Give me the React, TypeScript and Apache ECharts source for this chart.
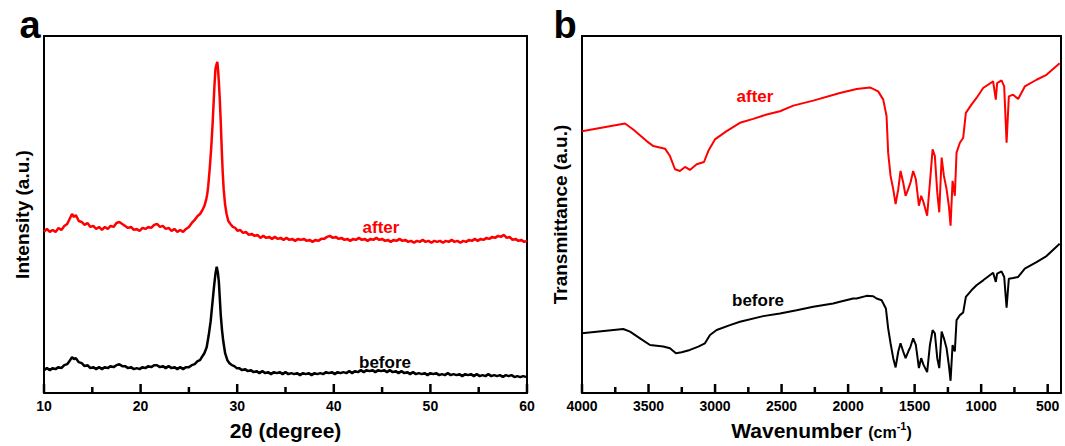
import React, { useEffect, useRef } from "react";
import * as echarts from "echarts";

// XRD (panel a): [2θ (degree), intensity (a.u.)]
const xrdAfter: number[][] = [
  [10, 162], [10.3, 165], [10.6, 162], [10.9, 164], [11.2, 162], [11.5, 166], [11.8, 164], [12.1, 168], [12.4, 170], [12.7, 176], [12.9, 180], [13.1, 177], [13.3, 179], [13.6, 173], [13.9, 172], [14.2, 169], [14.5, 171], [14.8, 167], [15.1, 168], [15.4, 165], [15.7, 167], [16.0, 164], [16.3, 167], [16.6, 165], [16.9, 168], [17.2, 167], [17.5, 171], [17.8, 172], [18.1, 170], [18.4, 168], [18.7, 166], [19.0, 167], [19.3, 164], [19.6, 165], [19.9, 163], [20.2, 166], [20.5, 165], [20.8, 167], [21.1, 166], [21.4, 169], [21.7, 170], [22.0, 167], [22.3, 168], [22.6, 165], [22.9, 166], [23.2, 163], [23.5, 165], [23.8, 162], [24.1, 164], [24.4, 162], [24.7, 165], [25.0, 167], [25.3, 171], [25.6, 174], [25.9, 178], [26.15, 180], [26.4, 184], [26.6, 188], [26.8, 195],
  [26.9, 200], [27.0, 208], [27.15, 225], [27.3, 245], [27.45, 270], [27.55, 290], [27.65, 310], [27.75, 326], [27.85, 330], [27.94, 333], [28.02, 325], [28.1, 313], [28.2, 295], [28.3, 272], [28.4, 245], [28.5, 222], [28.6, 205], [28.74, 190], [28.9, 180], [29.08, 173],
  [29.3, 170], [29.55, 167], [29.8, 166], [30.05, 163], [30.3, 164], [30.6, 161], [30.9, 162], [31.2, 159], [31.5, 160], [31.8, 158], [32.1, 159], [32.4, 156], [32.7, 158], [33.0, 156], [33.3, 157], [33.6, 155], [33.9, 157], [34.2, 155], [34.5, 156], [34.8, 154], [35.1, 156], [35.4, 154], [35.7, 155], [36.0, 153], [36.3, 155], [36.6, 154], [36.9, 155], [37.2, 153], [37.5, 154], [37.8, 152], [38.1, 154], [38.4, 153], [38.7, 155], [39.0, 155], [39.3, 157], [39.6, 158], [39.9, 156], [40.2, 157], [40.5, 155], [40.8, 156], [41.1, 154], [41.4, 155], [41.7, 153], [42.0, 155], [42.3, 154], [42.6, 156], [42.9, 154], [43.2, 155], [43.5, 153], [43.8, 155], [44.1, 154], [44.4, 156], [44.7, 154], [45.0, 155], [45.3, 153], [45.6, 154], [45.9, 152], [46.2, 154], [46.5, 153], [46.8, 155], [47.1, 153], [47.4, 154], [47.7, 152], [48.0, 153], [48.3, 151], [48.6, 153], [48.9, 152], [49.2, 154], [49.5, 152], [49.8, 153], [50.1, 151], [50.4, 153], [50.7, 152], [51.0, 153], [51.3, 151], [51.6, 153], [51.9, 152], [52.2, 154], [52.5, 152], [52.8, 153], [53.1, 151], [53.4, 153], [53.7, 152], [54.0, 154], [54.3, 153], [54.6, 155], [54.9, 153], [55.2, 155], [55.5, 154], [55.8, 156], [56.1, 155], [56.4, 157], [56.7, 156], [57.0, 158], [57.3, 157], [57.6, 159], [57.9, 156], [58.2, 157], [58.5, 154], [58.8, 155], [59.1, 153], [59.4, 154], [59.7, 152], [60, 153],
];

const xrdBefore: number[][] = [
  [10, 23], [10.3, 25], [10.6, 23], [10.9, 25], [11.2, 24], [11.5, 26], [11.8, 25], [12.1, 28], [12.4, 29], [12.7, 33], [12.9, 36], [13.1, 34], [13.3, 35], [13.6, 31], [13.9, 30], [14.2, 27], [14.5, 28], [14.8, 25], [15.1, 26], [15.4, 24], [15.7, 26], [16.0, 24], [16.3, 26], [16.6, 25], [16.9, 27], [17.2, 26], [17.5, 28], [17.8, 29], [18.1, 27], [18.4, 27], [18.7, 25], [19.0, 26], [19.3, 24], [19.6, 25], [19.9, 24], [20.2, 26], [20.5, 25], [20.8, 27], [21.1, 26], [21.4, 28], [21.7, 28], [22.0, 26], [22.3, 27], [22.6, 25], [22.9, 27], [23.2, 25], [23.5, 26], [23.8, 24], [24.1, 26], [24.4, 24], [24.7, 26], [25.0, 26], [25.3, 28], [25.6, 29], [25.9, 32], [26.15, 33], [26.4, 37], [26.6, 40], [26.84, 46],
  [27.05, 58], [27.25, 72], [27.45, 92], [27.6, 107], [27.75, 120], [27.88, 127], [28.0, 121], [28.1, 112], [28.2, 95], [28.3, 78], [28.43, 63], [28.56, 52], [28.75, 40], [28.98, 33],
  [29.2, 30], [29.45, 28], [29.7, 27], [29.95, 25], [30.2, 25], [30.5, 23], [30.8, 24], [31.1, 22], [31.4, 23], [31.7, 21], [32.0, 22], [32.3, 20], [32.6, 22], [32.9, 20], [33.2, 21], [33.5, 19], [33.8, 21], [34.1, 20], [34.4, 21], [34.7, 19], [35.0, 21], [35.3, 19], [35.6, 20], [35.9, 19], [36.2, 20], [36.5, 18], [36.8, 20], [37.1, 19], [37.4, 20], [37.7, 18], [38.0, 20], [38.3, 19], [38.6, 20], [38.9, 19], [39.2, 21], [39.5, 20], [39.8, 21], [40.1, 19], [40.4, 21], [40.7, 20], [41.0, 21], [41.3, 20], [41.6, 22], [41.9, 20], [42.2, 22], [42.5, 21], [42.8, 23], [43.1, 21], [43.4, 23], [43.7, 22], [44.0, 23], [44.3, 21], [44.6, 23], [44.9, 22], [45.2, 23], [45.5, 21], [45.8, 23], [46.1, 21], [46.4, 22], [46.7, 20], [47.0, 22], [47.3, 20], [47.6, 21], [47.9, 19], [48.2, 21], [48.5, 19], [48.8, 20], [49.1, 19], [49.4, 20], [49.7, 18], [50.0, 20], [50.3, 19], [50.6, 20], [50.9, 18], [51.2, 19], [51.5, 18], [51.8, 20], [52.1, 18], [52.4, 19], [52.7, 18], [53.0, 19], [53.3, 17], [53.6, 19], [53.9, 18], [54.2, 19], [54.5, 17], [54.8, 19], [55.1, 17], [55.4, 18], [55.7, 17], [56.0, 19], [56.3, 17], [56.6, 18], [56.9, 17], [57.2, 18], [57.5, 16], [57.8, 18], [58.1, 17], [58.4, 18], [58.7, 16], [59.0, 17], [59.3, 16], [59.6, 17], [60, 16],
];

// FTIR (panel b): wavenumber (cm-1) and transmittance (a.u.)
const ftirAfterWave = [4000, 3677, 3615, 3514, 3464, 3376, 3339, 3301, 3264, 3226, 3189, 3138, 3083, 3051, 3001, 2913, 2813, 2713, 2612, 2512, 2412, 2262, 2062, 1936, 1836, 1774, 1736, 1711, 1699, 1681, 1661, 1643, 1623, 1606, 1586, 1568, 1548, 1531, 1511, 1491, 1468, 1451, 1433, 1406, 1385, 1365, 1348, 1330, 1315, 1297, 1280, 1260, 1243, 1230, 1215, 1198, 1185, 1160, 1135, 1115, 1073, 1035, 985, 910, 890, 880, 847, 827, 809, 792, 760, 722, 672, 584, 509, 410];
const ftirAfterValues = [263.3, 271, 265, 253.3, 248.3, 245.7, 238.3, 225, 223.3, 227.3, 224.3, 230, 232.3, 243.3, 255, 263.3, 271.7, 275.7, 280, 283.3, 289, 294, 301.7, 305.7, 307.3, 303.3, 295, 278.3, 241.7, 218.3, 205, 190, 205, 223.3, 211.7, 198.3, 205, 211.7, 223.3, 215, 188.3, 198.3, 191.7, 178.3, 211.7, 245, 238.3, 201.7, 181.7, 236.7, 218.3, 205, 188.3, 168.3, 213.3, 198.3, 241.7, 251.7, 256.7, 281.7, 290, 296.7, 306.7, 313.3, 295, 311.7, 314.3, 308.3, 251.7, 298.3, 300, 295.7, 308.3, 315, 320, 331.7];

const ftirBeforeWave = [4000, 3690, 3639, 3564, 3489, 3389, 3339, 3294, 3251, 3189, 3126, 3076, 3038, 2988, 2888, 2813, 2638, 2512, 2387, 2262, 2112, 2062, 1962, 1936, 1861, 1811, 1786, 1748, 1716, 1699, 1681, 1661, 1643, 1623, 1606, 1586, 1568, 1548, 1531, 1511, 1491, 1468, 1451, 1433, 1406, 1385, 1365, 1348, 1330, 1315, 1297, 1280, 1260, 1243, 1230, 1215, 1198, 1185, 1160, 1135, 1115, 1073, 1035, 985, 910, 890, 880, 847, 827, 809, 792, 760, 722, 672, 584, 509, 410];
const ftirBeforeValues = [60, 64.3, 61.7, 55, 48.3, 46.7, 45, 40, 41, 43.3, 46.7, 50, 58.3, 63.3, 68.3, 71.7, 77.3, 80, 83.3, 86.7, 90, 91.7, 95, 95, 97.7, 97.3, 95, 93.3, 85, 65, 50, 35, 25.7, 41.7, 50, 41.7, 35, 41.7, 46.7, 55, 48.3, 25, 35, 28.3, 21, 48.3, 63.3, 60, 35, 25, 61.7, 55, 45, 28.3, 12.3, 48.3, 41.7, 73.3, 78.3, 81, 96.7, 103.3, 108.3, 113.3, 121, 111.7, 120, 122.3, 116.7, 85.7, 115, 115.7, 116.7, 125, 131.7, 137.7, 150];

// Tick positions
const xrdMajorTicks = [10, 20, 30, 40, 50, 60];
const xrdMinorTicks = [15, 25, 35, 45, 55];
const ftirMajorTicks = [4000, 3500, 3000, 2500, 2000, 1500, 1000, 500];
const ftirMinorTicks = [3750, 3250, 2750, 2250, 1750, 1250, 750];

const FONT = 'Arial, "Liberation Sans", Helvetica, sans-serif';

function zip(xs: number[], ys: number[]) {
  return xs.map((x, i) => [x, ys[i]]);
}

function tickData(major: number[], minor: number[]) {
  return [...major.map((v) => [v, 9]), ...minor.map((v) => [v, 6])];
}

const renderTick = (_params: any, api: any) => {
  const p = api.coord([api.value(0), 0]);
  return {
    type: "line",
    shape: { x1: p[0], y1: p[1], x2: p[0], y2: p[1] - api.value(1) },
    style: { stroke: "#000", lineWidth: 2.5 },
  };
};

export default function App() {
  const ref = useRef<HTMLDivElement>(null);
  useEffect(() => {
    if (!ref.current) return;
    const chart = echarts.init(ref.current, undefined, { renderer: "svg" });
    const axisLine = { show: true, onZero: false, lineStyle: { color: "#000", width: 2 } };
    const axisLabel = { show: true, color: "#000", fontSize: 14, fontWeight: "bold", fontFamily: FONT, margin: 6 };
    const hidden = { axisTick: { show: false }, minorTick: { show: false }, axisLabel: { show: false }, splitLine: { show: false } };
    const yAxisBase = {
      type: "value",
      min: 0,
      max: 359,
      position: "left",
      axisLine,
      ...hidden,
      nameLocation: "middle",
      nameGap: 12,
      nameTextStyle: { color: "#000", fontSize: 19, fontWeight: "bold", fontFamily: FONT },
    };
    const textStyle = (color: string) => ({
      fill: color,
      font: `bold 17px ${FONT}`,
      textAlign: "center",
      textVerticalAlign: "middle",
    });
    chart.setOption({
      animation: false,
      grid: [
        { left: 44, top: 36, width: 483, height: 359 },
        { left: 582, top: 36, width: 479, height: 359 },
      ],
      xAxis: [
        {
          type: "value",
          gridIndex: 0,
          position: "bottom",
          min: xrdMajorTicks[0],
          max: xrdMajorTicks[xrdMajorTicks.length - 1],
          interval: 10,
          axisLine,
          axisTick: { show: false },
          minorTick: { show: false },
          splitLine: { show: false },
          axisLabel,
          name: "2θ (degree)",
          nameLocation: "middle",
          nameGap: 27,
          nameTextStyle: { color: "#000", fontSize: 21, fontWeight: "bold", fontFamily: FONT },
        },
        {
          type: "value",
          gridIndex: 1,
          position: "bottom",
          min: 400,
          max: 4000,
          splitNumber: 7,
          inverse: true,
          axisLine,
          axisTick: { show: false },
          minorTick: { show: false },
          splitLine: { show: false },
          axisLabel: { ...axisLabel, showMinLabel: false, formatter: (v: number) => (v === 400 ? "" : String(v)) },
          name: "{a|Wavenumber }{b|(cm}{c|-1}{b|)}",
          nameLocation: "middle",
          nameGap: 27,
          nameTextStyle: {
            color: "#000",
            fontFamily: FONT,
            rich: {
              a: { fontSize: 21, fontWeight: "bold", fontFamily: FONT, color: "#000" },
              b: { fontSize: 16, fontWeight: "bold", fontFamily: FONT, color: "#000", padding: [4, 0, 0, 0] },
              c: { fontSize: 11, fontWeight: "bold", fontFamily: FONT, color: "#000", verticalAlign: "top", padding: [0, 0, 8, 0] },
            },
          },
        },
        { type: "value", gridIndex: 0, position: "top", min: 10, max: 60, axisLine, ...hidden },
        { type: "value", gridIndex: 1, position: "top", min: 400, max: 4000, inverse: true, axisLine, ...hidden },
      ],
      yAxis: [
        { ...yAxisBase, gridIndex: 0, name: "Intensity (a.u.)" },
        { ...yAxisBase, gridIndex: 1, name: "Transmittance (a.u.)" },
        { type: "value", gridIndex: 0, position: "right", min: 0, max: 359, axisLine, ...hidden },
        { type: "value", gridIndex: 1, position: "right", min: 0, max: 359, axisLine, ...hidden },
      ],
      series: [
        {
          type: "line",
          xAxisIndex: 0,
          yAxisIndex: 0,
          data: xrdAfter,
          showSymbol: false,
          lineStyle: { color: "#ff0000", width: 2.5 },
        },
        {
          type: "line",
          xAxisIndex: 0,
          yAxisIndex: 0,
          data: xrdBefore,
          showSymbol: false,
          lineStyle: { color: "#000", width: 2.5 },
        },
        {
          type: "line",
          xAxisIndex: 1,
          yAxisIndex: 1,
          data: zip(ftirAfterWave, ftirAfterValues),
          showSymbol: false,
          lineStyle: { color: "#ff0000", width: 2 },
        },
        {
          type: "line",
          xAxisIndex: 1,
          yAxisIndex: 1,
          data: zip(ftirBeforeWave, ftirBeforeValues),
          showSymbol: false,
          lineStyle: { color: "#000", width: 2 },
        },
        {
          type: "custom",
          xAxisIndex: 0,
          yAxisIndex: 0,
          data: tickData(xrdMajorTicks, xrdMinorTicks),
          renderItem: renderTick,
        },
        {
          type: "custom",
          xAxisIndex: 1,
          yAxisIndex: 1,
          data: tickData(ftirMajorTicks, ftirMinorTicks),
          renderItem: renderTick,
        },
      ],
      graphic: [
        { type: "text", x: 30, y: 25, style: { text: "a", fill: "#000", font: `bold 38px ${FONT}`, textAlign: "center", textVerticalAlign: "middle" } },
        { type: "text", x: 565, y: 25, style: { text: "b", fill: "#000", font: `bold 38px ${FONT}`, textAlign: "center", textVerticalAlign: "middle" } },
        { type: "text", x: 381, y: 227, style: { text: "after", ...textStyle("#ff0000") } },
        { type: "text", x: 385, y: 362, style: { text: "before", ...textStyle("#000") } },
        { type: "text", x: 755, y: 96, style: { text: "after", ...textStyle("#ff0000") } },
        { type: "text", x: 758, y: 300, style: { text: "before", ...textStyle("#000") } },
      ],
    });
    return () => chart.dispose();
  }, []);
  return <div ref={ref} style={{ position: "absolute", left: 0, top: 0, width: 1065, height: 446 }} />;
}
